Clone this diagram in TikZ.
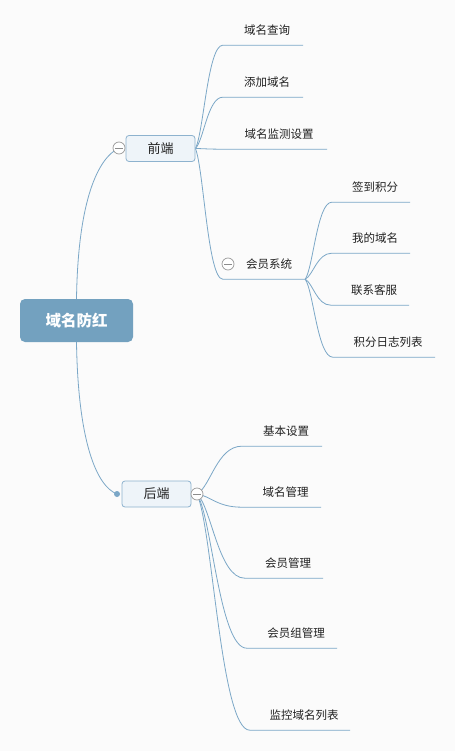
\documentclass[tikz,border=0pt]{standalone}
\usepackage{fontspec}
\newfontfamily\cjk{Noto Sans CJK SC}
\usetikzlibrary{calc}
\pgfdeclarelayer{bg}
\pgfdeclarelayer{lines}
\pgfsetlayers{bg,lines,main}
\definecolor{lnc}{HTML}{7BA7C7}
\definecolor{rootc}{HTML}{73A1BF}
\definecolor{boxf}{HTML}{EEF4F9}
\definecolor{boxd}{HTML}{8DB2CE}
\definecolor{bgc}{HTML}{FBFBFB}
\definecolor{txt}{HTML}{222222}
\tikzset{
  rootbox/.style={rectangle, rounded corners=5pt, fill=rootc, text=white, minimum width=113pt, minimum height=43pt, inner sep=0pt, font=\cjk\fontsize{15.5}{18}\selectfont\bfseries},
  midbox/.style={rectangle, rounded corners=3pt, fill=boxf, draw=boxd, line width=0.8pt, minimum width=69pt, minimum height=26pt, inner sep=0pt, text=txt, font=\cjk\fontsize{13}{15}\selectfont},
  leaf/.style={rectangle, minimum height=30pt, inner sep=0pt, text=txt, font=\cjk\fontsize{11.5}{14}\selectfont, execute at begin node={\hspace*{8pt}}},
  collapse/.style={circle, draw=gray!80, fill=white, line width=0.7pt, minimum size=12pt, inner sep=0pt,
    path picture={\draw[gray!90, line width=0.8pt] ([xshift=-3.6pt]path picture bounding box.center) -- ([xshift=3.6pt]path picture bounding box.center);}},
  dotend/.style={circle, fill=lnc, minimum size=6pt, inner sep=0pt},
  conn/.style={draw=lnc, line width=0.8pt},
  branch/.style={to path={let \p1=(\tikztostart), \p2=(\tikztotarget) in
     .. controls ({\x1+0.3*(\x2-\x1)}, {\y1+0.15*(\y2-\y1)}) and ({\x1+0.45*(\x2-\x1)}, \y2) .. (\tikztotarget)}}
}
\begin{document}
\begin{tikzpicture}[x=1pt,y=-1pt]
\begin{pgfonlayer}{bg}
\fill[bgc] (0,0) rectangle (455,751);
\end{pgfonlayer}
\useasboundingbox (0,0) rectangle (455,751);

% main nodes
\node[rootbox] (root) at (76.5,320.5) {域名防红};
\node[midbox] (fe) at (160.5,148.5) {前端};
\node[midbox] (be) at (156.5,494) {后端};
\node[collapse] (fc) at (119,148) {};
\node[collapse] (bc) at (197,494) {};
\node[dotend] (bd) at (117,494) {};

% front-end leaves
\node[leaf, minimum width=80pt] (f1) at (263,30) {域名查询};
\node[leaf, minimum width=80pt] (f2) at (263,82) {添加域名};
\node[leaf, minimum width=104pt] (f3) at (275,134) {域名监测设置};
\node[leaf, minimum width=82pt] (f4) at (264,264) {\hspace*{2pt}会员系统};
\node[collapse] (hc) at (228,264) {};

% member system leaves
\node[leaf, minimum width=78pt] (m1) at (371,187) {签到积分};
\node[leaf, minimum width=78pt] (m2) at (371,238) {我的域名};
\node[leaf, minimum width=78pt] (m3) at (370,290) {联系客服};
\node[leaf, minimum width=102pt] (m4) at (384,342) {积分日志列表};

% back-end leaves
\node[leaf, minimum width=80pt] (b1) at (282,431) {基本设置};
\node[leaf, minimum width=79pt] (b2) at (281.5,492) {域名管理};
\node[leaf, minimum width=78pt] (b3) at (284,563) {会员管理};
\node[leaf, minimum width=90pt] (b4) at (292,633) {会员组管理};
\node[leaf, minimum width=100pt] (b5) at (300,715) {监控域名列表};

\begin{pgfonlayer}{lines}
\draw[conn] (root.north) .. controls (78,200) and (98,158) .. (fc.center);
\draw[conn] (root.south) .. controls (78,440) and (96,486) .. (bd.center);
\foreach \c in {f1,f2,f3,f4}
  \draw[conn] (fe.east) to[branch] (\c.south west) -- (\c.south east);
\foreach \c in {m1,m2,m3,m4}
  \draw[conn] (f4.south east) to[branch] (\c.south west) -- (\c.south east);
\foreach \c in {b1,b2,b3,b4,b5}
  \draw[conn] (bc.center) to[branch] (\c.south west) -- (\c.south east);
\end{pgfonlayer}
\end{tikzpicture}
\end{document}
